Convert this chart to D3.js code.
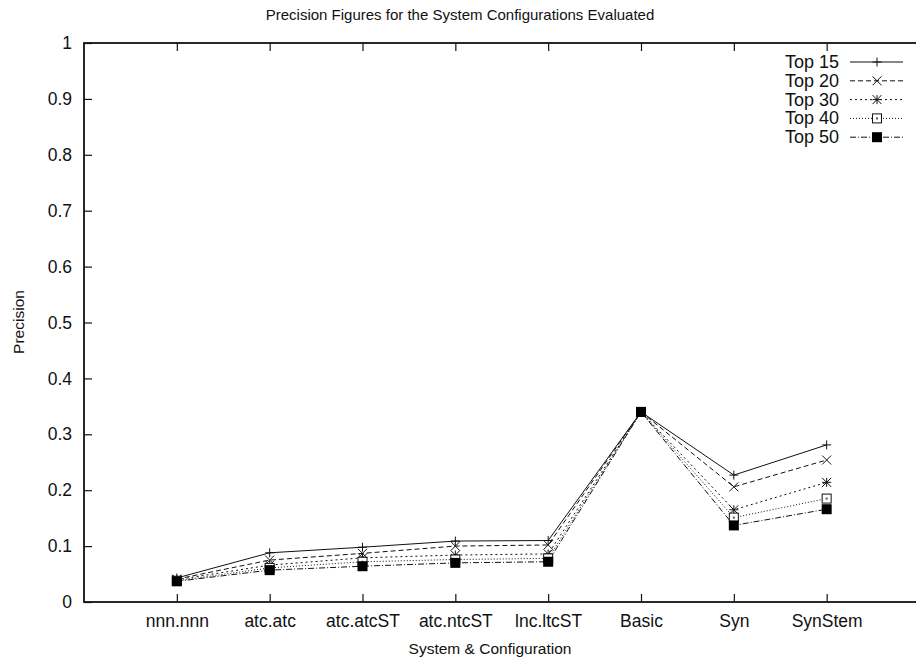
<!DOCTYPE html>
<html>
<head>
<meta charset="utf-8">
<script src="https://cdn.jsdelivr.net/npm/d3@7"></script>
<style>
  body { margin: 0; background: #fff; }
  svg { display: block; font-family: "Liberation Sans", Arial, sans-serif; }
</style>
</head>
<body>
<svg id="chart" width="916" height="662"></svg>
<script>
// Configurations on the x axis
const categories = ["nnn.nnn", "atc.atc", "atc.atcST", "atc.ntcST", "lnc.ltcST", "Basic", "Syn", "SynStem"];

// Precision at each cut-off
const top15 = [0.043, 0.088, 0.098, 0.109, 0.110, 0.340, 0.227, 0.281];
const top20 = [0.041, 0.075, 0.087, 0.100, 0.102, 0.340, 0.206, 0.254];
const top30 = [0.040, 0.066, 0.079, 0.084, 0.086, 0.340, 0.165, 0.214];
const top40 = [0.038, 0.061, 0.072, 0.076, 0.078, 0.340, 0.151, 0.185];
const top50 = [0.037, 0.057, 0.064, 0.070, 0.072, 0.340, 0.137, 0.166];

const seriesNames = ["Top 15", "Top 20", "Top 30", "Top 40", "Top 50"];
const yTicks = [0, 0.1, 0.2, 0.3, 0.4, 0.5, 0.6, 0.7, 0.8, 0.9, 1];

const series = [
  { name: seriesNames[0], values: top15, dash: null, marker: "plus" },
  { name: seriesNames[1], values: top20, dash: "5,3", marker: "cross" },
  { name: seriesNames[2], values: top30, dash: "2,3", marker: "star" },
  { name: seriesNames[3], values: top40, dash: "1,2", marker: "openSquare" },
  { name: seriesNames[4], values: top50, dash: "6,2,1,2", marker: "filledSquare" }
];

const svg = d3.select("#chart");
const plotLeft = 84, plotTop = 43, plotBottom = 602, plotRight = 919.5;
const labelFont = 17.5;

// Categories sit at 1..8 on a 0..9 range
const x = d3.scaleLinear().domain([0, categories.length + 1]).range([plotLeft, plotRight]);
const y = d3.scaleLinear().domain([0, 1]).range([plotBottom, plotTop]);

// Title and axis titles
svg.append("text").attr("x", 460).attr("y", 20).attr("text-anchor", "middle")
  .attr("font-size", 15).attr("fill", "#111").text("Precision Figures for the System Configurations Evaluated");
svg.append("text").attr("transform", "translate(24,322) rotate(-90)").attr("text-anchor", "middle")
  .attr("font-size", 15.5).attr("fill", "#111").text("Precision");
svg.append("text").attr("x", 490).attr("y", 654).attr("text-anchor", "middle")
  .attr("font-size", 15.5).attr("fill", "#111").text("System & Configuration");

// Axes with inward ticks
const yAxis = d3.axisLeft(y).tickValues(yTicks).tickSize(-8).tickPadding(12)
  .tickFormat(d => d3.format("")(+d.toFixed(1)));
const gy = svg.append("g").attr("transform", `translate(${plotLeft},0)`).call(yAxis);
gy.select(".domain").remove();
gy.selectAll("text").attr("font-size", labelFont).attr("fill", "#111").attr("font-family", "Liberation Sans, Arial, sans-serif");
gy.selectAll("line").attr("stroke", "#111").attr("stroke-width", 1.2);

const xVals = categories.map((c, i) => i + 1);
const xAxis = d3.axisBottom(x).tickValues(xVals).tickSize(-8).tickPadding(13)
  .tickFormat((d, i) => categories[i]);
const gx = svg.append("g").attr("transform", `translate(0,${plotBottom})`).call(xAxis);
gx.select(".domain").remove();
gx.selectAll("text").attr("font-size", labelFont).attr("fill", "#111").attr("font-family", "Liberation Sans, Arial, sans-serif");
gx.selectAll("line").attr("stroke", "#111").attr("stroke-width", 1.2);

// Mirrored ticks along the top border
const gxTop = svg.append("g").attr("transform", `translate(0,${plotTop})`)
  .call(d3.axisTop(x).tickValues(xVals).tickSize(-8).tickFormat(""));
gxTop.select(".domain").remove();
gxTop.selectAll("line").attr("stroke", "#111").attr("stroke-width", 1.2);

// Frame
svg.append("rect").attr("x", plotLeft).attr("y", plotTop).attr("width", plotRight - plotLeft).attr("height", plotBottom - plotTop)
  .attr("fill", "none").attr("stroke", "#111").attr("stroke-width", 1.8);

// Marker drawing
function drawMarker(g, type, cx, cy) {
  const s = 4.5;
  const line = (x1, y1, x2, y2) => {
    g.append("line").attr("x1", x1).attr("y1", y1).attr("x2", x2).attr("y2", y2)
      .attr("stroke", "#111").attr("stroke-width", 1);
  };
  if (type === "plus" || type === "star") {
    line(cx - s, cy, cx + s, cy);
    line(cx, cy - s, cx, cy + s);
  }
  if (type === "cross" || type === "star") {
    line(cx - s, cy - s, cx + s, cy + s);
    line(cx - s, cy + s, cx + s, cy - s);
  }
  if (type === "openSquare") {
    g.append("rect").attr("x", cx - 4.5).attr("y", cy - 4.5).attr("width", 9).attr("height", 9)
      .attr("fill", "#fff").attr("stroke", "#111").attr("stroke-width", 1);
    g.append("rect").attr("x", cx - 1).attr("y", cy - 1).attr("width", 2).attr("height", 2).attr("fill", "#555");
  }
  if (type === "filledSquare") {
    g.append("rect").attr("x", cx - 5).attr("y", cy - 5).attr("width", 10).attr("height", 10).attr("fill", "#000");
  }
}

const lineGen = d3.line().x((d, i) => x(i + 1)).y(d => y(d));
const plot = svg.append("g");
series.forEach(s => {
  plot.append("path").datum(s.values).attr("d", lineGen).attr("fill", "none")
    .attr("stroke", "#111").attr("stroke-width", 1)
    .attr("stroke-dasharray", s.dash);
});
series.forEach(s => {
  const g = plot.append("g");
  s.values.forEach((v, i) => drawMarker(g, s.marker, x(i + 1), y(v)));
});

// Legend
const legend = svg.append("g");
series.forEach((s, i) => {
  const ly = 62 + i * 18.8;
  legend.append("text").attr("x", 839).attr("y", ly + 6).attr("text-anchor", "end")
    .attr("font-size", 18).attr("fill", "#111").text(s.name);
  legend.append("line").attr("x1", 850).attr("x2", 903).attr("y1", ly).attr("y2", ly)
    .attr("stroke", "#111").attr("stroke-width", 1).attr("stroke-dasharray", s.dash);
  drawMarker(legend.append("g"), s.marker, 877, ly);
});
</script>
</body>
</html>
